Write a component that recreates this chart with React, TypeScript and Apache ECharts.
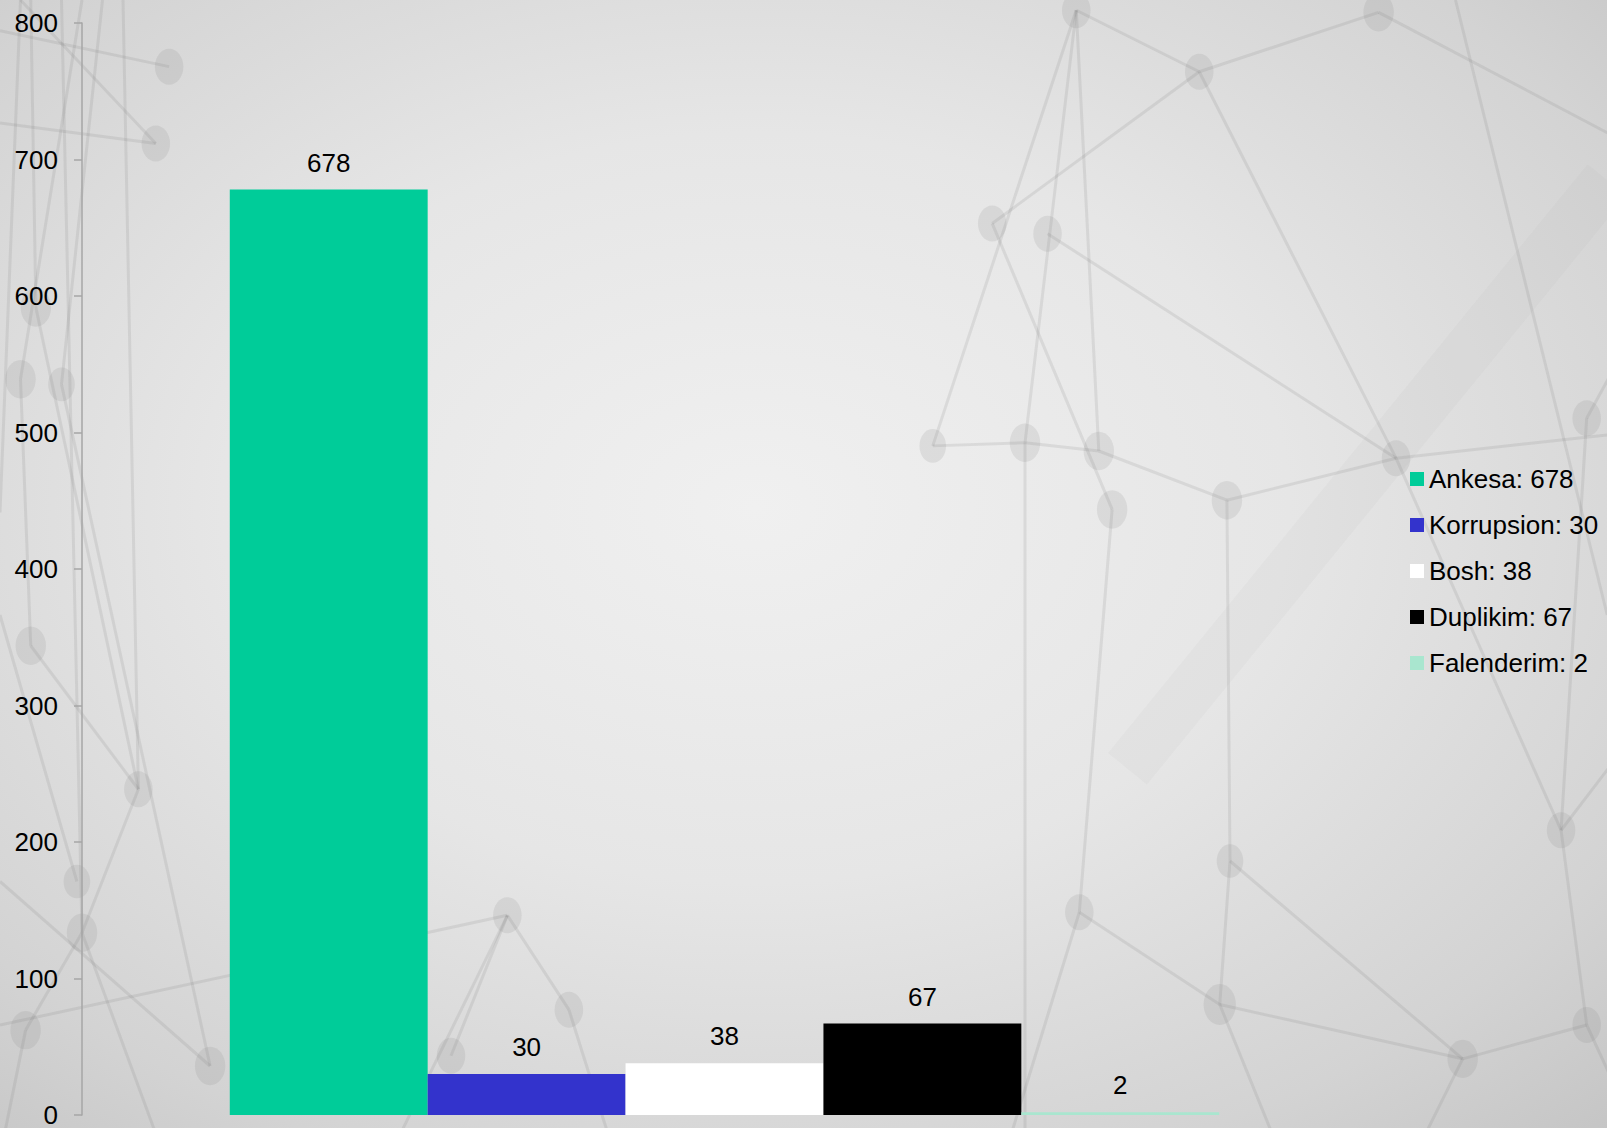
import React, { useEffect, useRef } from "react";
import * as echarts from "echarts";

const categories = ["Ankesa", "Korrupsion", "Bosh", "Duplikim", "Falenderim"];
const values = [678, 30, 38, 67, 2];
const barColors = ["#00CC99", "#3333CC", "#FFFFFF", "#000000", "#A9E6CF"];
const yMin = 0;
const yMax = 800;
const yInterval = 100;

const FONT = "'Liberation Sans', Arial, sans-serif";

// decorative background network (pixel positions of the picture, not data)
const S = 1.025;
const nodes: [number, number, number][] = [
  [165, 65, 15], [152, 140, 15], [35, 300, 16], [60, 375, 14], [20, 370, 16], [30, 630, 16], [135, 770, 15],
  [75, 860, 14], [80, 910, 16], [25, 1005, 16], [205, 1040, 16], [495, 893, 15], [555, 985, 15], [440, 1030, 15],
  [1050, 10, 15], [1170, 70, 15], [1345, 12, 16], [968, 218, 15], [1022, 228, 15], [910, 435, 14],
  [1000, 432, 16], [1072, 440, 16], [1085, 497, 16], [1197, 488, 16], [1362, 447, 15], [1548, 408, 15],
  [1200, 840, 14], [1053, 890, 15], [1190, 980, 17], [1523, 810, 15], [1427, 1033, 16], [1548, 1000, 15],
];
const links: [number, number, number, number][] = [
  [0, 30, 165, 65], [20, 0, 152, 140], [0, 120, 152, 140], [30, 0, 35, 300], [60, 0, 80, 910], [20, 0, 0, 500],
  [80, 0, 20, 370], [35, 300, 135, 770], [60, 375, 205, 1040], [30, 630, 135, 770], [135, 770, 80, 910],
  [0, 860, 205, 1040], [80, 910, 25, 1005], [25, 1005, 0, 1128], [80, 910, 160, 1128], [495, 893, 380, 1128],
  [495, 893, 555, 985], [555, 985, 600, 1128], [440, 1030, 495, 893], [0, 1000, 495, 893], [100, 0, 60, 375],
  [0, 600, 75, 860], [120, 0, 135, 770], [20, 370, 30, 630],
  [1050, 10, 1000, 432], [1050, 10, 1170, 70], [1170, 70, 1345, 12], [1170, 70, 1362, 447], [968, 218, 1085, 497],
  [1022, 228, 1362, 447], [910, 435, 1050, 10], [910, 435, 1000, 432], [1000, 432, 1072, 440],
  [1072, 440, 1197, 488], [1197, 488, 1362, 447], [1085, 497, 1053, 890], [1197, 488, 1200, 840],
  [1200, 840, 1190, 980], [1053, 890, 1190, 980], [1190, 980, 1427, 1033], [1362, 447, 1523, 810],
  [1523, 810, 1548, 1000], [1548, 408, 1607, 300], [1548, 408, 1523, 810], [1427, 1033, 1548, 1000],
  [1420, 0, 1568, 600], [1345, 12, 1607, 150], [1200, 840, 1427, 1033], [1000, 432, 1000, 1128],
  [1053, 890, 980, 1128], [1190, 980, 1250, 1128], [1362, 447, 1607, 420], [968, 218, 1170, 70],
  [1072, 440, 1050, 10], [1523, 810, 1607, 700], [1427, 1033, 1380, 1128], [1548, 1000, 1607, 1128],
];

export default function App() {
  const ref = useRef<HTMLDivElement>(null);

  useEffect(() => {
    document.body.style.margin = "0";
    if (!ref.current) return;
    const chart = echarts.init(ref.current, undefined, { renderer: "svg" });

    const graphics: any[] = [
      {
        type: "rect",
        shape: { x: 0, y: 0, width: 1607, height: 1128 },
        style: {
          fill: new echarts.graphic.RadialGradient(0.47, 0.45, 0.95, [
            { offset: 0, color: "#f0f0f0" },
            { offset: 0.35, color: "#e6e6e6" },
            { offset: 0.65, color: "#d3d3d3" },
            { offset: 1, color: "#b4b4b4" },
          ]),
        },
        z: -20,
        silent: true,
      },
      {
        type: "line",
        shape: { x1: 1100 * S, y1: 750 * S, x2: 1607, y2: 180 },
        style: { stroke: "rgba(150,150,150,0.06)", lineWidth: 50 },
        z: -15,
        silent: true,
      },
    ];
    links.forEach(([x1, y1, x2, y2]) => {
      graphics.push({
        type: "line",
        shape: { x1: x1 * S, y1: y1 * S, x2: x2 * S, y2: y2 * S },
        style: { stroke: "rgba(110,110,110,0.14)", lineWidth: 3 },
        z: -15,
        silent: true,
      });
    });
    nodes.forEach(([cx, cy, r]) => {
      graphics.push({
        type: "ellipse",
        shape: { cx: cx * S, cy: cy * S, rx: r * 0.95, ry: r * 1.2 },
        style: { fill: "rgba(130,130,130,0.15)" },
        z: -15,
        silent: true,
      });
    });

    const option: any = {
      animation: false,
      graphic: graphics,
      grid: { left: 82, right: 240, top: 23, bottom: 12, containLabel: false },
      legend: {
        orient: "vertical",
        left: 1410,
        top: 466,
        padding: 0,
        icon: "rect",
        itemWidth: 14,
        itemHeight: 14,
        itemGap: 20,
        data: categories,
        formatter: (name: string) => `${name}: ${values[categories.indexOf(name)]}`,
        textStyle: { fontSize: 26, color: "#000", fontFamily: FONT, lineHeight: 26, padding: [0, 0, 0, 0] },
        selectedMode: false,
      },
      xAxis: {
        type: "category",
        data: [""],
        show: false,
      },
      yAxis: {
        type: "value",
        min: yMin,
        max: yMax,
        interval: yInterval,
        axisLine: { show: true, lineStyle: { color: "#A6A6A6", width: 1.5 } },
        axisTick: { show: true, length: 8, lineStyle: { color: "#A6A6A6", width: 1.5 } },
        splitLine: { show: false },
        axisLabel: { fontSize: 26, color: "#000", fontFamily: FONT, margin: 24 },
      },
      series: categories.map((name, i) => ({
        name,
        type: "bar",
        data: [values[i]],
        barGap: "0%",
        barCategoryGap: "23%",
        itemStyle: { color: barColors[i] },
        label: {
          show: true,
          position: "top",
          distance: 14,
          fontSize: 26,
          color: "#000",
          fontFamily: FONT,
        },
      })),
    };
    chart.setOption(option);
    return () => chart.dispose();
  }, []);

  return <div ref={ref} style={{ width: 1607, height: 1128 }} />;
}
